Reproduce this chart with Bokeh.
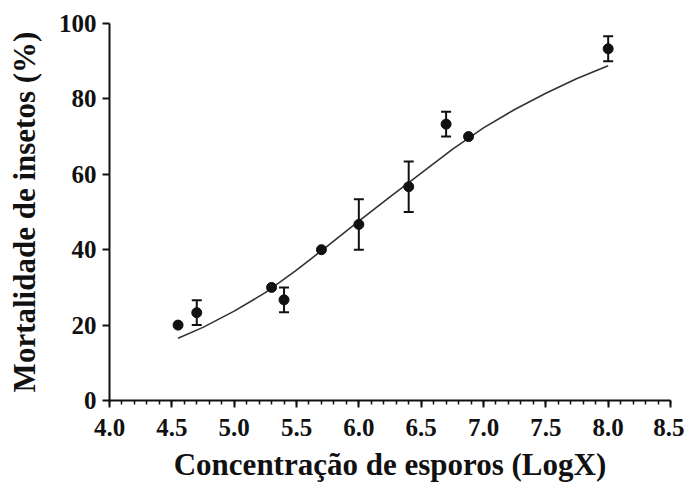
from bokeh.plotting import figure
from bokeh.models import ColumnDataSource, FixedTicker, Whisker, TeeHead, PrintfTickFormatter
from bokeh.embed import file_html
from bokeh.resources import INLINE

# Data
conc_log = [4.55, 4.7, 5.3, 5.4, 5.7, 6.0, 6.4, 6.7, 6.88, 8.0]
mortality = [20.0, 23.3, 30.0, 26.7, 40.0, 46.7, 56.7, 73.3, 70.0, 93.3]
err = [0.0, 3.3, 0.0, 3.3, 0.0, 6.7, 6.7, 3.3, 0.0, 3.3]

fit_x = [4.55, 4.75, 5.0, 5.25, 5.5, 5.75, 6.0, 6.25, 6.5, 6.75, 7.0, 7.25, 7.5, 7.75, 8.0]
fit_y = [16.5, 19.4, 23.7, 28.6, 34.6, 41.0, 47.6, 54.0, 60.3, 66.6, 72.3, 77.2, 81.5, 85.4, 88.8]

x_ticks = [4.0, 4.5, 5.0, 5.5, 6.0, 6.5, 7.0, 7.5, 8.0, 8.5]
x_minor = [round(4.0 + 0.1 * i, 1) for i in range(46)]
y_ticks = [0, 20, 40, 60, 80, 100]

FONT = "Liberation Serif"
INK = "#111111"

p = figure(
    frame_width=561, frame_height=377,
    x_range=(4.0, 8.5), y_range=(0, 100),
    output_backend="svg", toolbar_location=None,
    min_border_left=109, min_border_right=14,
    min_border_top=23, min_border_bottom=86,
)
p.outline_line_color = None
p.grid.visible = False
p.background_fill_color = "white"
p.border_fill_color = "white"

src = ColumnDataSource(dict(x=conc_log, y=mortality))
ebar_idx = [i for i, e in enumerate(err) if e > 0]
esrc = ColumnDataSource(dict(
    x=[conc_log[i] for i in ebar_idx],
    upper=[mortality[i] + err[i] for i in ebar_idx],
    lower=[mortality[i] - err[i] for i in ebar_idx],
))

p.line(fit_x, fit_y, line_color="#333333", line_width=1.6, line_join="round")

w = Whisker(source=esrc, base="x", upper="upper", lower="lower",
            line_color=INK, line_width=2,
            upper_head=TeeHead(size=10, line_color=INK, line_width=2),
            lower_head=TeeHead(size=10, line_color=INK, line_width=2))
p.add_layout(w)

p.scatter("x", "y", source=src, size=10, fill_color=INK, line_color=INK)

xa = p.xaxis[0]
xa.ticker = FixedTicker(ticks=x_ticks, minor_ticks=x_minor)
xa.formatter = PrintfTickFormatter(format="%.1f")
xa.axis_label = "Concentração de esporos (LogX)"
ya = p.yaxis[0]
ya.ticker = FixedTicker(ticks=y_ticks, minor_ticks=[])
ya.axis_label = "Mortalidade de insetos (%)"

for ax in (xa, ya):
    ax.axis_line_color = INK
    ax.axis_line_width = 2
    ax.major_tick_line_color = INK
    ax.major_tick_line_width = 2
    ax.major_tick_out = 7
    ax.major_tick_in = 0
    ax.minor_tick_line_color = INK
    ax.minor_tick_line_width = 1.5
    ax.minor_tick_out = 4
    ax.minor_tick_in = 0
    ax.major_label_text_font = FONT
    ax.major_label_text_font_style = "bold"
    ax.major_label_text_font_size = "25px"
    ax.major_label_text_color = INK
    ax.axis_label_text_font = FONT
    ax.axis_label_text_font_style = "bold"
    ax.axis_label_text_font_size = "31px"
    ax.axis_label_text_color = INK

xa.major_label_standoff = 11
xa.axis_label_standoff = 8
ya.major_label_standoff = 6
ya.axis_label_standoff = 14

open("out.html", "w").write(file_html(p, INLINE))
